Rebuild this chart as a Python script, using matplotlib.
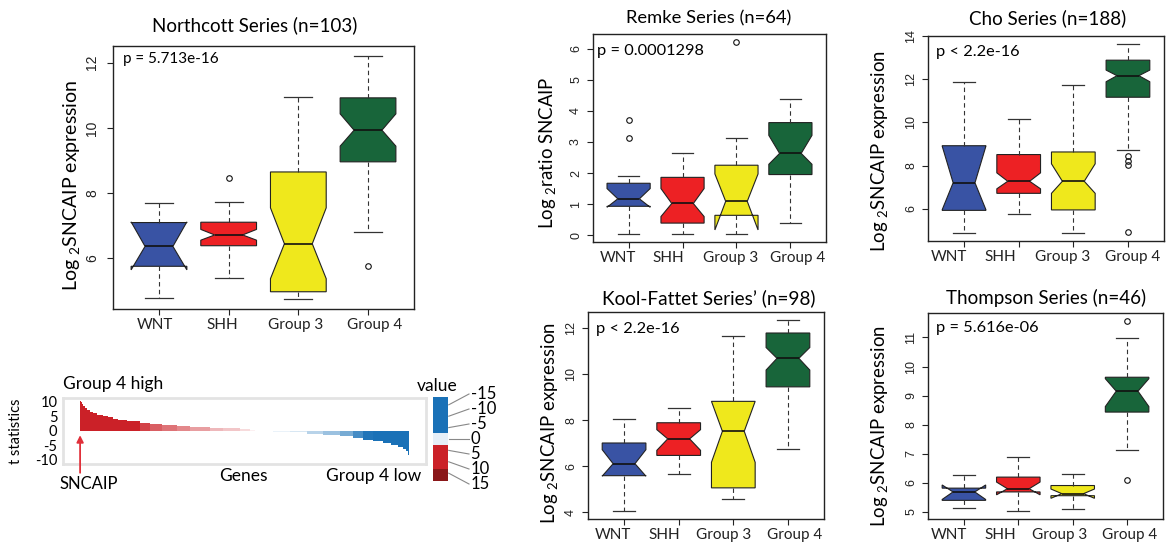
import numpy as np
import matplotlib
matplotlib.use('Agg')
import matplotlib.pyplot as plt
from matplotlib.colors import LinearSegmentedColormap, Normalize
from matplotlib.transforms import ScaledTranslation

# 字体设置
plt.rcParams['font.family'] = ['Lato', 'DejaVu Sans']
plt.rcParams['axes.unicode_minus'] = False
plt.rcParams['mathtext.fontset'] = 'custom'
plt.rcParams['mathtext.rm'] = 'Lato'

W, H = 1166, 543

groups = ['WNT', 'SHH', 'Group 3', 'Group 4']
group_colors = ['#3953a4', '#ed2124', '#efe81c', '#18653a']

# Northcott
nc_whislo = [4.78, 5.41, 4.75, 6.80]
nc_q1 = [5.76, 6.39, 4.98, 8.96]
nc_med = [6.37, 6.72, 6.45, 9.93]
nc_q3 = [7.10, 7.11, 8.65, 10.92]
nc_whishi = [7.71, 7.73, 10.96, 12.21]
nc_cilo = [5.65, 6.56, 5.38, 9.44]
nc_cihi = [7.12, 6.89, 7.55, 10.43]
nc_fliers = [[], [8.45], [], [5.77]]

# Remke
rm_whislo = [0.04, 0.03, 0.04, 0.38]
rm_q1 = [0.93, 0.39, 0.64, 1.95]
rm_med = [1.17, 1.02, 1.09, 2.63]
rm_q3 = [1.67, 1.86, 2.25, 3.62]
rm_whishi = [1.91, 2.64, 3.14, 4.38]
rm_cilo = [0.90, 0.60, 0.17, 2.28]
rm_cihi = [1.50, 1.50, 1.97, 3.21]
rm_fliers = [[3.12, 3.71], [], [6.22], []]

# Cho
ch_whislo = [4.85, 5.74, 4.87, 8.70]
ch_q1 = [5.92, 6.71, 5.94, 11.17]
ch_med = [7.20, 7.27, 7.27, 12.17]
ch_q3 = [8.92, 8.51, 8.63, 12.89]
ch_whishi = [11.86, 10.18, 11.75, 13.66]
ch_cilo = [5.95, 6.92, 6.71, 11.89]
ch_cihi = [8.90, 7.66, 8.08, 12.43]
ch_fliers = [[], [], [], [8.45, 8.22, 8.02, 4.92]]

# Kool-Fattet
kf_whislo = [4.04, 5.67, 4.59, 6.75]
kf_q1 = [5.59, 6.47, 5.06, 9.45]
kf_med = [6.11, 7.19, 7.52, 10.69]
kf_q3 = [7.01, 7.89, 8.82, 11.79]
kf_whishi = [8.07, 8.54, 11.64, 12.37]
kf_cilo = [5.57, 6.69, 6.17, 10.18]
kf_cihi = [6.72, 7.59, 8.82, 11.16]
kf_fliers = [[], [], [], []]

# Thompson
th_whislo = [5.13, 5.01, 5.09, 7.12]
th_q1 = [5.39, 5.68, 5.55, 8.43]
th_med = [5.68, 5.79, 5.62, 9.15]
th_q3 = [5.81, 6.19, 5.90, 9.63]
th_whishi = [6.25, 6.87, 6.29, 10.98]
th_cilo = [5.42, 5.58, 5.46, 8.62]
th_cihi = [5.92, 6.02, 5.78, 9.58]
th_fliers = [[], [], [], [11.58, 6.08]]

# 排序后的 t 统计量 (基因百分位)
gene_pct = [0.0, 0.3, 0.6, 1.0, 1.5, 2.0, 3.0, 4.0, 5.1, 6.1, 7.1, 8.6, 10.1, 11.6,
            14.2, 18.2, 21.3, 24.8, 29.4, 33.4, 39.5, 43.6, 48.6, 51.7, 53.2,
            54.7, 58.8, 63.8, 68.9, 74.0, 79.0, 83.1, 86.1, 89.1, 92.2, 94.7,
            96.7, 98.1, 99.0, 99.6, 99.9, 100.0]
t_stat = [10.2, 9.8, 9.2, 8.7, 8.0, 7.3, 6.6, 6.2, 5.6, 5.3, 5.0, 4.7, 4.2, 3.8,
          3.2, 2.7, 2.3, 2.0, 1.7, 1.4, 1.0, 0.8, 0.5, 0.2, 0.05,
          -0.2, -0.3, -0.55, -1.0, -1.4, -1.9, -2.6, -3.1, -3.6, -4.2, -4.8,
          -5.5, -6.2, -7.1, -8.4, -9.9]

legend_levels = [-15, -10, -5, 0, 5, 10, 15]
legend_bounds = [-14, -2, 2, 10, 14]
legend_colors = ['#1a71b7', '#e6eff8', '#cb2128', '#8a1719']


fig = plt.figure(figsize=(W / 100, H / 100), dpi=100)


def add_ax(left, top, right, bottom):
    return fig.add_axes([left / W, 1 - bottom / H, (right - left) / W, (bottom - top) / H])


def put(x, y, s, **kw):
    kw.setdefault('ha', 'center')
    kw.setdefault('va', 'center')
    fig.text(x / W, 1 - y / H, s, **kw)


def boxplot_panel(ax, whislo, q1, med, q3, whishi, cilo, cihi, fliers, yticks, pval,
                  tick_size=9, ypad=3.4, p_off=(8, -16), p_size=11.8, lab_shift=None):
    stats = []
    for i in range(len(groups)):
        stats.append(dict(whislo=whislo[i], q1=q1[i], med=med[i], q3=q3[i],
                          whishi=whishi[i], cilo=cilo[i], cihi=cihi[i],
                          fliers=fliers[i]))
    bp = ax.bxp(stats, positions=[1, 2, 3, 4], widths=0.8, shownotches=True,
                patch_artist=True,
                boxprops=dict(edgecolor='#222222', linewidth=0.8),
                whiskerprops=dict(color='#333333', linewidth=0.8, linestyle=(0, (4, 3))),
                capprops=dict(color='#333333', linewidth=0.9),
                medianprops=dict(color='#111111', linewidth=1.2),
                flierprops=dict(marker='o', markersize=4, markerfacecolor='none',
                                markeredgecolor='#111111', markeredgewidth=0.8))
    for patch, c in zip(bp['boxes'], group_colors):
        patch.set_facecolor(c)

    # R 风格的坐标范围: 数据范围外扩 4%
    allv = whislo + whishi + [v for f in fliers for v in f]
    lo, hi = min(allv), max(allv)
    pad = 0.04 * (hi - lo)
    ax.set_ylim(lo - pad, hi + pad)
    ax.set_xlim(0.34, 4.66)

    ax.set_xticks([1, 2, 3, 4])
    ax.set_xticklabels(groups, fontsize=11)
    ax.set_yticks(yticks)
    ax.set_yticklabels([str(v) for v in yticks], family='Liberation Sans',
                       fontsize=tick_size, rotation=90, va='center')
    ax.tick_params(direction='out', length=4.5, width=0.8, colors='#222222')
    ax.tick_params(axis='x', pad=2)
    ax.tick_params(axis='y', pad=ypad)
    for s in ax.spines.values():
        s.set_linewidth(1.0)
        s.set_color('#222222')
    # 分组标签稍微错开, 避免相互重叠
    if lab_shift:
        for lab, dx in zip(ax.get_xticklabels(), lab_shift):
            lab.set_transform(lab.get_transform() +
                              ScaledTranslation(dx / 100, 0, fig.dpi_scale_trans))
    ax.annotate(pval, xy=(0, 1), xycoords='axes fraction', xytext=p_off,
                textcoords='offset pixels', ha='left', va='center',
                fontsize=p_size)


ylab = r'Log $_{2}$SNCAIP expression'

# Northcott
ax1 = add_ax(113, 46, 414, 309)
boxplot_panel(ax1, nc_whislo, nc_q1, nc_med, nc_q3, nc_whishi, nc_cilo, nc_cihi,
              nc_fliers, [6, 8, 10, 12], 'p = 5.713e-16', tick_size=10, ypad=5.6,
              p_off=(10, -13), p_size=11, lab_shift=[-4, -6, -3, 7])
put(255, 25, 'Northcott Series (n=103)', fontsize=13.5)
put(72, 185, ylab, rotation=90, fontsize=14)

# Remke
ax2 = add_ax(593, 34, 826, 242)
boxplot_panel(ax2, rm_whislo, rm_q1, rm_med, rm_q3, rm_whishi, rm_cilo, rm_cihi,
              rm_fliers, [0, 1, 2, 3, 4, 5, 6], 'p = 0.0001298',
              p_off=(4, -17), lab_shift=[-11, -14, -6, 7])
put(709, 18, 'Remke Series (n=64)', fontsize=13.2)
put(548, 153, r'Log $_{2}$ratio SNCAIP', rotation=90, fontsize=13.4)

# Cho
ax3 = add_ax(928, 36, 1164, 241)
boxplot_panel(ax3, ch_whislo, ch_q1, ch_med, ch_q3, ch_whishi, ch_cilo, ch_cihi,
              ch_fliers, [6, 8, 10, 12, 14], 'p < 2.2e-16',
              p_off=(8, -16), lab_shift=[-15, -18, -11, 5])
put(1048, 18, 'Cho Series (n=188)', fontsize=13.5)
put(880, 151, ylab, rotation=90, fontsize=13.4)

# Kool-Fattet
ax4 = add_ax(588, 312, 824, 519)
boxplot_panel(ax4, kf_whislo, kf_q1, kf_med, kf_q3, kf_whishi, kf_cilo, kf_cihi,
              kf_fliers, [4, 6, 8, 10, 12], 'p < 2.2e-16',
              p_off=(8, -17), lab_shift=[-11, -14, -10, 7])
put(709, 298, 'Kool-Fattet Series\u2019 (n=98)', fontsize=13.7)
put(550, 423, ylab, rotation=90, fontsize=13.4)

# Thompson
ax5 = add_ax(928, 313, 1163, 519)
boxplot_panel(ax5, th_whislo, th_q1, th_med, th_q3, th_whishi, th_cilo, th_cihi,
              th_fliers, [5, 6, 7, 8, 9, 10, 11], 'p = 5.616e-06',
              p_off=(8, -15), lab_shift=[-15, -18, -13, 3])
put(1046, 298, 'Thompson Series (n=46)', fontsize=13.5)
put(880, 426, ylab, rotation=90, fontsize=13.4)

# t 统计量瀑布图
cmap = LinearSegmentedColormap.from_list('g4', ['#1a71b7', '#ffffff', '#cb2128'])
norm = Normalize(-3.2, 3.2, clip=True)
ax6 = add_ax(63, 398, 426, 464)
widths = np.diff(gene_pct)
ax6.bar(gene_pct[:-1], t_stat, width=widths, align='edge',
        color=cmap(norm(np.array(t_stat))), linewidth=0)
ax6.set_xlim(-5.2, 105.2)
ax6.set_ylim(-11.5, 11.3)
ax6.set_xticks([])
ax6.set_yticks([10, 5, 0, -5, -10])
ax6.tick_params(axis='y', length=0, pad=4, labelsize=10.5)
for s in ax6.spines.values():
    s.set_color('#e3e3e3')
    s.set_linewidth(2)
ax6.annotate('', xy=(0, -0.6), xytext=(0, -15.5),
             arrowprops=dict(arrowstyle='-|>', color='#e0303a', lw=1.3,
                             mutation_scale=10),
             annotation_clip=False)
put(16, 431, 't statistics', rotation=90, fontsize=10.5)
put(63, 384, 'Group 4 high', ha='left', fontsize=12.5)
put(243, 476, 'Genes', fontsize=12.5)
put(421, 476, 'Group 4 low', ha='right', fontsize=12.5)
put(89, 484, 'SNCAIP', fontsize=12)

# 图例色条
ax7 = add_ax(433, 397, 448, 481)
for i, c in enumerate(legend_colors):
    ax7.axhspan(legend_bounds[i], legend_bounds[i + 1], color=c, lw=0)
ax7.set_ylim(legend_bounds[-1], legend_bounds[0])
ax7.set_xlim(0, 1)
ax7.axis('off')
for lv in legend_levels:
    ax7.plot([1.05, 2.4], [lv * 0.76, lv], color='#888888', lw=0.8, clip_on=False)
    ax7.text(2.5, lv, str(lv), ha='left', va='center', fontsize=12, clip_on=False)
put(437, 386, 'value', fontsize=12.5)

fig.savefig('out.png', dpi=100)
